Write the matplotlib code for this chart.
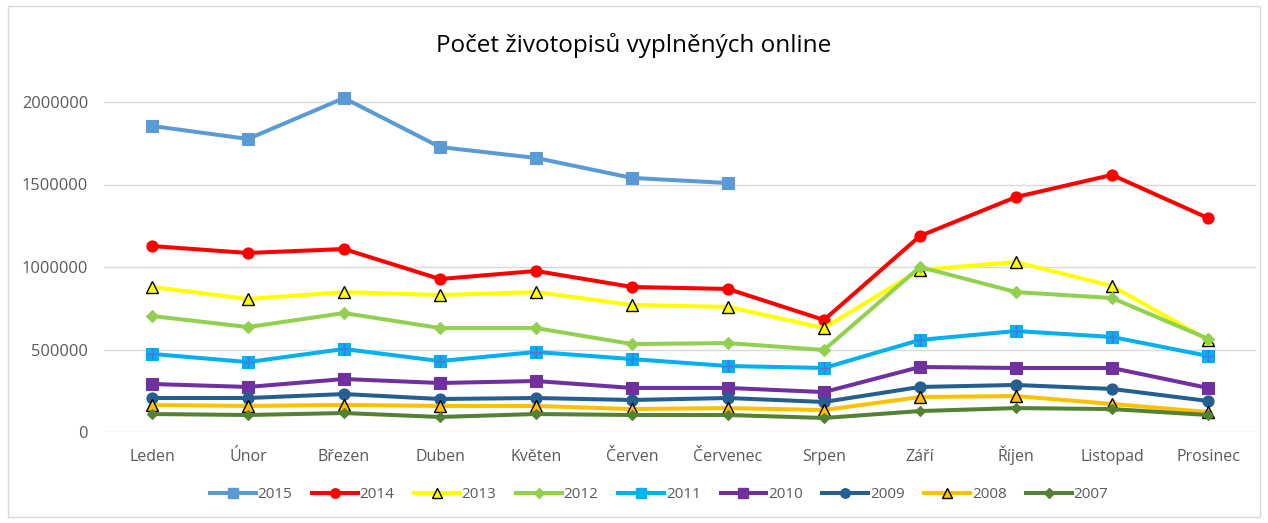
import matplotlib
matplotlib.use("Agg")
import matplotlib.pyplot as plt
from matplotlib.patches import Rectangle
from matplotlib.lines import Line2D
from matplotlib.ticker import FixedLocator

months = ["Leden", "Únor", "Březen", "Duben", "Květen", "Červen", "Červenec",
          "Srpen", "Září", "Říjen", "Listopad", "Prosinec"]

y2015 = [1855000, 1776000, 2024000, 1727000, 1661000, 1540000, 1509000]
y2014 = [1127000, 1085000, 1109000, 927000, 976000, 879000, 867000, 679000, 1188000, 1424000, 1558000, 1297000]
y2013 = [879000, 806000, 848000, 830000, 848000, 770000, 758000, 630000, 982000, 1030000, 885000, 558000]
y2012 = [703000, 636000, 721000, 630000, 630000, 533000, 539000, 497000, 1000000, 848000, 812000, 565000]
y2011 = [473000, 424000, 503000, 430000, 485000, 442000, 400000, 388000, 558000, 612000, 576000, 461000]
y2010 = [291000, 273000, 321000, 297000, 309000, 267000, 267000, 242000, 394000, 388000, 388000, 267000]
y2009 = [206000, 206000, 230000, 200000, 206000, 194000, 206000, 182000, 273000, 285000, 261000, 188000]
y2008 = [164000, 158000, 164000, 158000, 158000, 139000, 145000, 133000, 212000, 218000, 170000, 121000]
y2007 = [109000, 103000, 115000, 91000, 109000, 103000, 103000, 85000, 127000, 145000, 139000, 103000]

yticks = [0, 500000, 1000000, 1500000, 2000000]

W, H = 1268, 523
fig = plt.figure(figsize=(W / 100, H / 100), dpi=100)
fig.patch.set_facecolor("white")
fig.add_artist(Rectangle((8 / W, 6 / H), 1 - 16 / W, 1 - 12 / H, transform=fig.transFigure,
                         fill=False, edgecolor="#D9D9D9", linewidth=1))

ax = fig.add_axes([104 / W, (H - 432) / H, (1256 - 104) / W, (432 - 85.5) / H])
x = list(range(len(months)))
lw = 2.9

series = [
    ("2015", y2015, "#5B9BD5", "s", 8, "#5B9BD5", "#5B9BD5"),
    ("2014", y2014, "#FF0000", "o", 8, "#FF0000", "#FF0000"),
    ("2013", y2013, "#FFFF00", "^", 9, "#FFFF00", "#000000"),
    ("2012", y2012, "#92D050", "D", 6.5, "#92D050", "#92D050"),
    ("2011", y2011, "#00B0F0", "s", 9, "#00B0F0", "#00B0F0"),
    ("2010", y2010, "#7030A0", "s", 8, "#7030A0", "#7030A0"),
    ("2009", y2009, "#255E91", "o", 8, "#255E91", "#255E91"),
    ("2008", y2008, "#FFC000", "^", 9, "#FFC000", "#000000"),
    ("2007", y2007, "#548235", "D", 5.5, "#548235", "#548235"),
]

handles = []
for name, vals, col, mk, ms, fc, ec in series:
    xs = x[:len(vals)]
    ax.plot(xs, vals, color=col, lw=lw, marker=mk, markersize=ms,
            markerfacecolor=fc, markeredgecolor=ec, markeredgewidth=1.0 if ec == "#000000" else 0.8,
            zorder=3)
    if name == "2011":
        ax.plot(xs, vals, linestyle="none", marker="+", markersize=9, color="#5B6FD0",
                markeredgewidth=1.0, zorder=4)
    handles.append(Line2D([], [], color=col, lw=lw, marker=mk, markersize=ms * 0.85,
                          markerfacecolor=fc, markeredgecolor=ec, label=name))

ax.set_xlim(-0.5, 11.5)
ax.set_ylim(0, 2100000)
ax.yaxis.set_major_locator(FixedLocator(yticks))
ax.set_yticklabels([str(v) for v in yticks])
ax.set_xticks(x)
ax.set_xticklabels(months)
ax.grid(axis="y", color="#D9D9D9", linewidth=1, zorder=0)
ax.set_axisbelow(True)
for s in ["top", "right", "left", "bottom"]:
    ax.spines[s].set_visible(False)
ax.tick_params(axis="y", length=0, labelsize=11.8, colors="#595959", pad=11.5)
ax.tick_params(axis="x", length=0, labelsize=11.5, colors="#595959", pad=21)
for t in ax.get_xticklabels():
    t.set_fontfamily("Open Sans")
    t.set_verticalalignment("baseline")
for t in ax.get_yticklabels():
    t.set_fontfamily("Open Sans")

fig.text(0.5, 1 - 45 / H, "Počet životopisů vyplněných online", ha="center", va="center",
         fontsize=17.5, color="#000000", family="Open Sans")

leg = fig.legend(handles=handles, loc="center", bbox_to_anchor=(0.52, 1 - 495 / H), ncol=9,
                 frameon=False, prop={"family": "Open Sans", "size": 11}, handlelength=3.0,
                 handletextpad=0.1, columnspacing=1.3)
for t in leg.get_texts():
    t.set_color("#595959")

fig.savefig("out.png", dpi=100, facecolor="white")
